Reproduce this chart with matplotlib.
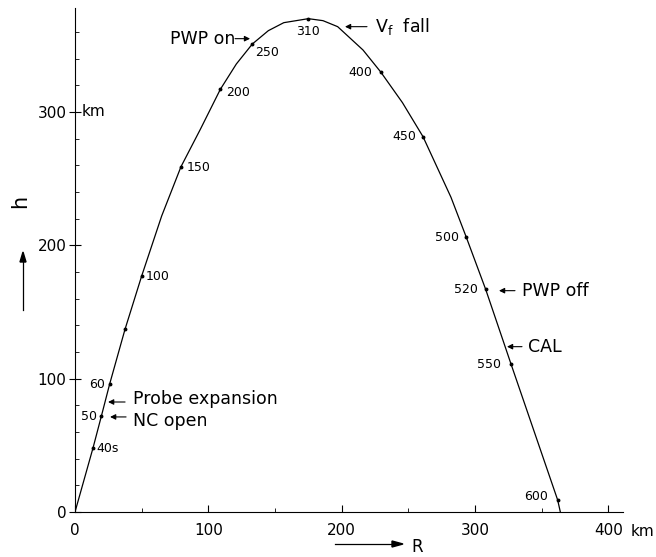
import numpy as np
import matplotlib.pyplot as plt

# trajectory: range R (km), height h (km)
curve_R = [0, 13.5, 19.8, 26, 37.5, 50, 65, 79.5, 94, 109, 121, 133, 145,
           156.6, 175, 186, 197, 216, 229.3, 245.6, 261, 282, 293.5, 308,
           322.6, 327, 362, 364]
curve_h = [0, 48, 72, 96, 137, 177, 222, 259, 287, 317, 336, 351, 361,
           367, 370, 368.5, 364, 346.5, 330, 307, 281.5, 236, 206, 167,
           124, 111, 9, 0]

# flight-time marks (s) along the curve
time_lbl = ["40s", "50", "60", "", "100", "150", "200", "250", "310",
            "400", "450", "500", "520", "550", "600"]
time_R = [13.5, 19.8, 26, 37.5, 50, 79.5, 109, 133, 175,
          229.3, 261, 293.5, 308, 327, 362]
time_h = [48, 72, 96, 137, 177, 259, 317, 351, 370,
          330, 281.5, 206, 167, 111, 9]

# events marked with arrows
ev_text = ["PWP on", r"V$_{\rm f}$  fall", "Probe expansion", "NC open",
           "PWP off", "CAL"]
ev_R = [131.3, 202.5, 24.8, 26.3, 318, 324]
ev_h = [355, 364, 82.5, 71.3, 166, 124]

xticks = [0, 100, 200, 300, 400]
yticks = [0, 100, 200, 300]

fig = plt.figure(figsize=(6.56, 5.57), dpi=100)
ax = fig.add_axes([75 / 656, 45 / 557, 548 / 656, 504 / 557])

ax.plot(curve_R, curve_h, color="k", lw=0.9)
ax.plot(time_R, time_h, "o", color="k", ms=1.8)

# label placement (pixels from the mark)
lbl_off = [(3, 0), (-4, 0), (-5, 0), (0, 0), (4, 0), (6, -1), (6, -3),
           (3, -8), (0, -6), (-8, 0), (-7, 0), (-7, 0), (-8, 0), (-10, 0),
           (-10, 3)]
for lbl, r, h, off in zip(time_lbl, time_R, time_h, lbl_off):
    if lbl == "":
        continue
    if lbl == "310":
        ha, va = "center", "top"
    elif off[0] > 0:
        ha, va = "left", "center"
    else:
        ha, va = "right", "center"
    ax.annotate(lbl, (r, h), xytext=off, textcoords="offset pixels",
                ha=ha, va=va, fontsize=9)

# arrow tail, text start (pixels in x), text shift (pixels in y)
ev_lay = [(-15, -15, 0), (22, 30, 0), (17, 25, 3), (16, 23, -4),
          (16, 23, 0), (15, 21, 0)]
for txt, r, h, (tail, tx, dy) in zip(ev_text, ev_R, ev_h, ev_lay):
    ax.annotate("", (r, h), xytext=(tail, 0), textcoords="offset pixels",
                arrowprops=dict(arrowstyle="-|>", color="k", lw=0.8,
                                mutation_scale=8, shrinkA=0, shrinkB=0))
    ax.annotate(txt, (r, h), xytext=(tx, dy), textcoords="offset pixels",
                ha="left" if tx > 0 else "right", va="center",
                fontsize=12.5)

ax.set_xlim(0, 411)
ax.set_ylim(0, 378)
ax.spines["top"].set_visible(False)
ax.spines["right"].set_visible(False)
ax.set_xticks(xticks)
ax.set_yticks(yticks)
ax.set_xticks(np.arange(50, 400, 100), minor=True)
ax.set_yticks(np.arange(20, 378, 20), minor=True)
ax.tick_params(axis="x", which="major", direction="in", length=5, pad=8,
               labelsize=11)
ax.tick_params(axis="x", which="minor", direction="in", length=3)
ax.tick_params(axis="y", which="major", direction="inout", length=8, pad=2,
               labelsize=11)
ax.tick_params(axis="y", which="minor", direction="in", length=3)

ax.annotate("km", (400, 0), xytext=(22, -19), textcoords="offset pixels",
            ha="left", va="center", fontsize=11)
ax.annotate("km", (0, 300), xytext=(7, 0), textcoords="offset pixels",
            ha="left", va="center", fontsize=11)

# axis names with arrows
fig.text(20 / 656, 1 - 201 / 557, "h", rotation=90, fontsize=15,
         ha="center", va="center")
fig.add_artist(plt.Line2D([23 / 656, 23 / 656],
                          [1 - 310 / 557, 1 - 262 / 557], color="k", lw=0.9))
fig.patches.append(plt.Polygon([[20 / 656, 1 - 262 / 557],
                                [26 / 656, 1 - 262 / 557],
                                [23 / 656, 1 - 252 / 557]],
                               closed=True, color="k",
                               transform=fig.transFigure, figure=fig))
fig.text(417 / 656, 1 - 547 / 557, "R", fontsize=12, ha="center", va="center")
fig.add_artist(plt.Line2D([335 / 656, 392 / 656],
                          [1 - 544 / 557, 1 - 544 / 557], color="k", lw=0.9))
fig.patches.append(plt.Polygon([[392 / 656, 1 - 541 / 557],
                                [392 / 656, 1 - 547 / 557],
                                [403 / 656, 1 - 544 / 557]],
                               closed=True, color="k",
                               transform=fig.transFigure, figure=fig))

plt.savefig("out.png")
